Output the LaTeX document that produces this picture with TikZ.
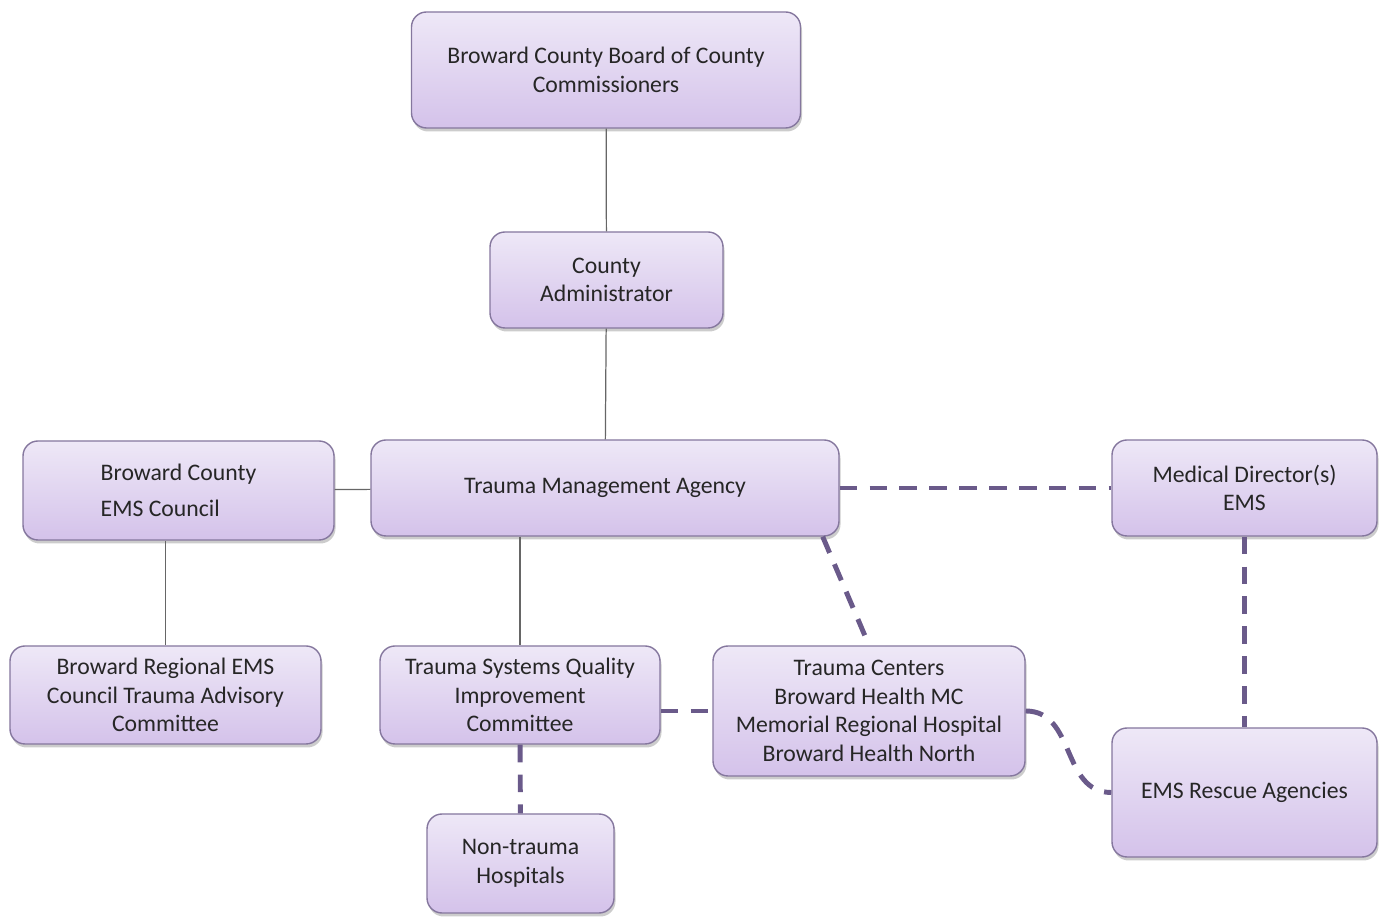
\documentclass[tikz,border=0pt]{standalone}
\usepackage{fontspec}
\setmainfont{Carlito}
\usetikzlibrary{shadows}

\definecolor{boxtop}{HTML}{EEE8F7}
\definecolor{boxbottom}{HTML}{D4C2EA}
\definecolor{boxline}{HTML}{85779E}
\definecolor{dashline}{HTML}{6A5A8A}
\definecolor{solidline}{HTML}{666666}
\definecolor{boxtext}{HTML}{262626}

\begin{document}
\begin{tikzpicture}[
        box/.style={draw=boxline, line width=0.8pt, rounded corners=0.3cm,
            top color=boxtop, bottom color=boxbottom, text=boxtext, align=center,
            font=\fontsize{13.5}{16.2}\selectfont, inner sep=2pt,
            drop shadow={opacity=0.4, shadow xshift=0.03cm, shadow yshift=-0.07cm}},
        solidlink/.style={draw=solidline, line width=0.7pt},
        dashlink/.style={draw=dashline, line width=2.8pt, dash pattern=on 10pt off 7pt}
    ]
        \useasboundingbox (0, 0) rectangle (27.66, 18.34);

        \node[box, minimum width=7.78cm, minimum height=2.32cm] (board) at (12.12, 16.94) {Broward County Board of County\\Commissioners};
        \node[box, minimum width=4.66cm, minimum height=1.92cm] (admin) at (12.13, 12.74) {County\\Administrator};
        \node[box, minimum width=9.36cm, minimum height=1.92cm] (tma) at (12.10, 8.58) {Trauma Management Agency};
        \node[box, align=left, minimum width=6.22cm, minimum height=1.98cm] (council) at (3.57, 8.53) {Broward County\\[4pt]EMS Council};
        \node[box, minimum width=5.30cm, minimum height=1.92cm] (meddir) at (24.89, 8.58) {Medical Director(s)\\EMS};

        \node[box, minimum width=6.22cm, minimum height=1.96cm] (regional) at (3.31, 4.44) {Broward Regional EMS\\Council Trauma Advisory\\Committee};
        \node[box, minimum width=5.60cm, minimum height=1.96cm] (tsqic) at (10.40, 4.44) {Trauma Systems Quality\\Improvement\\Committee};
        \node[box, minimum width=6.24cm, minimum height=2.60cm] (centers) at (17.38, 4.12) {Trauma Centers\\Broward Health MC\\Memorial Regional Hospital\\Broward Health North};
        \node[box, minimum width=5.30cm, minimum height=2.58cm] (rescue) at (24.89, 2.49) {EMS Rescue Agencies};
        \node[box, minimum width=3.74cm, minimum height=1.98cm] (nontrauma) at (10.41, 1.07) {Non-trauma\\Hospitals};

        % solid reporting lines
        \draw[solidlink] (board) -- (admin);
        \draw[solidlink] (admin) -- (tma);
        \draw[solidlink] (council) -- (tma);
        \draw[solidlink] (council.south -| regional.north) -- (regional.north);
        \draw[solidlink] (tma.south -| tsqic.north) -- (tsqic.north);

        % dashed links
        \draw[dashlink] (tma) -- (meddir);
        \draw[dashlink] ([xshift=-0.34cm]tma.south east) -- (centers.north);
        \draw[dashlink] (tsqic.east |- centers.west) -- (centers.west);
        \draw[dashlink] (tsqic) -- (nontrauma);
        \draw[dashlink] (meddir) -- (rescue);
        \draw[dashlink] (centers.east) .. controls +(1.0, 0) and +(-1.0, 0) .. (rescue.west);
    \end{tikzpicture}
\end{document}
